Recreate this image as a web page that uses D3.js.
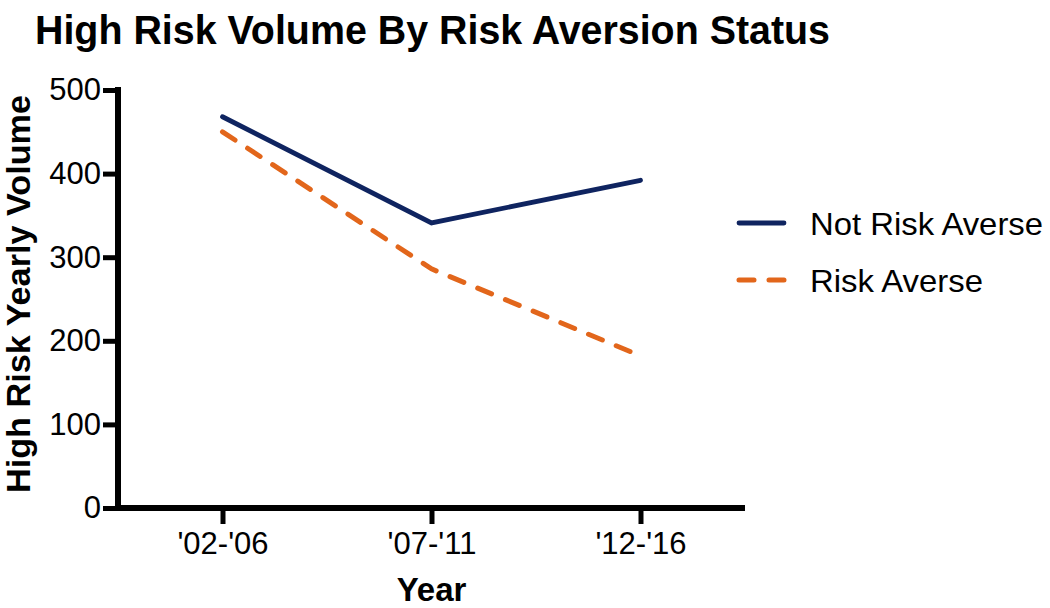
<!DOCTYPE html>
<html>
<head>
<meta charset="utf-8">
<script src="https://cdn.jsdelivr.net/npm/d3@7"></script>
<style>
  html, body { margin: 0; padding: 0; background: #fff; }
  svg { display: block; font-family: "Liberation Sans", Arial, sans-serif; }
</style>
</head>
<body>
<svg id="chart" width="1050" height="608"></svg>
<script>
const categories = ["'02-'06", "'07-'11", "'12-'16"];
const notRiskAverse = [468, 341, 392];
const riskAverse = [450, 286, 182];
const yTicks = [0, 100, 200, 300, 400, 500];
const seriesNames = ["Not Risk Averse", "Risk Averse"];

const svg = d3.select("#chart");
const pLeft = 118, pRight = 745, pTop = 90, pBottom = 508;

const x = d3.scalePoint().domain(categories).range([pLeft, pRight]).padding(0.5);
const y = d3.scaleLinear().domain([0, 500]).range([pBottom, pTop]);

const navy = "#0f2460", orange = "#e2661b";

// title
svg.append("text").attr("x", 35).attr("y", 44)
  .attr("font-size", 40).attr("font-weight", "bold").attr("fill", "#000")
  .attr("textLength", 795).attr("lengthAdjust", "spacingAndGlyphs")
  .text("High Risk Volume By Risk Aversion Status");

// y axis
const yAxis = svg.append("g").attr("transform", `translate(${pLeft},0)`)
  .call(d3.axisLeft(y).tickValues(yTicks).tickSize(15).tickPadding(2).tickSizeOuter(0));
yAxis.select(".domain").attr("stroke", "#000").attr("stroke-width", 6)
  .attr("d", `M0,${pTop - 3}V${pBottom}`);
yAxis.selectAll(".tick line").attr("stroke", "#000").attr("stroke-width", 5);
yAxis.selectAll(".tick text").attr("font-size", 31).attr("fill", "#000")
  .attr("font-family", "Liberation Sans, Arial, sans-serif");

// x axis
const xAxis = svg.append("g").attr("transform", `translate(0,${pBottom})`)
  .call(d3.axisBottom(x).tickSize(16).tickPadding(8).tickSizeOuter(0));
xAxis.select(".domain").attr("stroke", "#000").attr("stroke-width", 6)
  .attr("d", `M${pLeft - 3},0H${pRight}`);
xAxis.selectAll(".tick line").attr("stroke", "#000").attr("stroke-width", 5);
xAxis.selectAll(".tick text").attr("font-size", 31).attr("fill", "#000")
  .attr("font-family", "Liberation Sans, Arial, sans-serif");

// axis titles
svg.append("text").attr("x", x(categories[1])).attr("y", 601)
  .attr("text-anchor", "middle").attr("font-size", 33).attr("font-weight", "bold")
  .text("Year");
svg.append("text").attr("transform", `translate(30,294) rotate(-90)`)
  .attr("text-anchor", "middle").attr("font-size", 33).attr("font-weight", "bold")
  .attr("textLength", 398).attr("lengthAdjust", "spacingAndGlyphs")
  .text("High Risk Yearly Volume");

// lines
const line = d3.line().x((d, i) => x(categories[i])).y(d => y(d));
svg.append("path").datum(notRiskAverse).attr("d", line)
  .attr("fill", "none").attr("stroke", navy).attr("stroke-width", 4.8)
  .attr("stroke-linecap", "round").attr("stroke-linejoin", "miter");
svg.append("path").datum(riskAverse).attr("d", line)
  .attr("fill", "none").attr("stroke", orange).attr("stroke-width", 5)
  .attr("stroke-linecap", "round").attr("stroke-dasharray", "15,15");

// legend
const legend = svg.append("g");
const legendY = [223, 280];
const legendLen = [233, 173];
seriesNames.forEach((name, i) => {
  legend.append("line").attr("x1", 739).attr("x2", 784)
    .attr("y1", legendY[i]).attr("y2", legendY[i])
    .attr("stroke", i === 0 ? navy : orange).attr("stroke-width", i === 0 ? 4.8 : 5)
    .attr("stroke-linecap", "round")
    .attr("stroke-dasharray", i === 0 ? null : "15,15");
  legend.append("text").attr("x", 810).attr("y", legendY[i] + 12)
    .attr("font-size", 32).attr("fill", "#000")
    .attr("textLength", legendLen[i]).attr("lengthAdjust", "spacingAndGlyphs")
    .text(name);
});
</script>
</body>
</html>
